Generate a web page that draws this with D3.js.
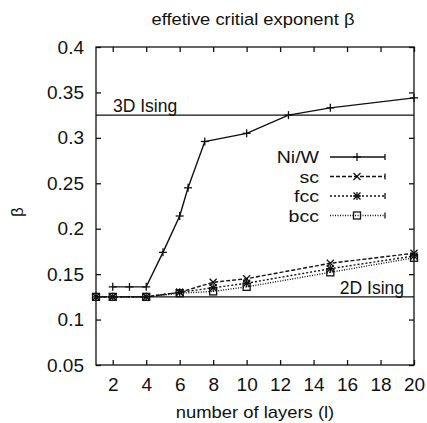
<!DOCTYPE html>
<html><head><meta charset="utf-8">
<script src="https://cdn.jsdelivr.net/npm/d3@7/dist/d3.min.js"></script>
<style>body{margin:0;background:#fff}svg{display:block}text{font-family:"Liberation Sans",Arial,sans-serif;fill:#111}</style>
</head><body>
<svg id="c" width="427" height="423"></svg>
<script>
const title = "effetive critial exponent β";
const xLabel = "number of layers (l)";
const yLabel = "β";
const xTicks = [2,4,6,8,10,12,14,16,18,20];
const yTicks = [0.05,0.1,0.15,0.2,0.25,0.3,0.35,0.4];
const yTickLabels = ["0.05","0.1","0.15","0.2","0.25","0.3","0.35","0.4"];

const niwX = [2,3,4,5,6,6.5,7.5,10,12.5,15,20];
const niwY = [0.136,0.136,0.136,0.174,0.214,0.245,0.296,0.305,0.325,0.333,0.344];
const latX = [1,2,4,6,8,10,15,20];
const scY  = [0.125,0.125,0.125,0.130,0.141,0.145,0.162,0.173];
const fccY = [0.125,0.125,0.125,0.130,0.135,0.140,0.156,0.170];
const bccY = [0.125,0.125,0.125,0.129,0.131,0.136,0.152,0.168];
const seriesNames = ["Ni/W","sc","fcc","bcc"];
const refValues = [0.325,0.125];
const refNames = ["3D Ising","2D Ising"];

const W=427,H=423, m={l:96,r:13,t:47,b:58};
const svg=d3.select("#c");
const x=d3.scaleLinear().domain([1,20]).range([m.l,W-m.r]);
const y=d3.scaleLinear().domain([0.05,0.4]).range([H-m.b,m.t]);
const ink="#111";

// frame
svg.append("rect").attr("x",m.l).attr("y",m.t).attr("width",W-m.r-m.l).attr("height",H-m.b-m.t)
  .attr("fill","none").attr("stroke",ink).attr("stroke-width",1.3);

const fmtY = d => yTickLabels[yTicks.indexOf(d)];
const axB=svg.append("g").attr("transform",`translate(0,${H-m.b})`)
  .call(d3.axisBottom(x).tickValues(xTicks).tickSize(-5).tickPadding(13).tickFormat(d3.format("d")));
const axT=svg.append("g").attr("transform",`translate(0,${m.t})`)
  .call(d3.axisTop(x).tickValues(xTicks).tickSize(-5).tickFormat(""));
const axL=svg.append("g").attr("transform",`translate(${m.l},0)`)
  .call(d3.axisLeft(y).tickValues(yTicks).tickSize(-5).tickPadding(12).tickFormat(fmtY));
const axR=svg.append("g").attr("transform",`translate(${W-m.r},0)`)
  .call(d3.axisRight(y).tickValues(yTicks).tickSize(-5).tickFormat(""));
[axB,axT,axL,axR].forEach(a=>{a.select(".domain").remove();a.selectAll("line").attr("stroke",ink).attr("stroke-width",1.3);});
[axB,axL].forEach(a=>a.selectAll("text").attr("font-size",19).attr("fill",ink).attr("font-family","Liberation Sans, Arial, sans-serif"));

// reference lines
refValues.forEach((v,i)=>{
  svg.append("line").attr("x1",m.l).attr("x2",W-m.r).attr("y1",y(v)).attr("y2",y(v)).attr("stroke",ink).attr("stroke-width",1.4);
});
svg.append("text").attr("x",x(1)+17).attr("y",y(refValues[0])-3).attr("font-size",17.5).text(refNames[0]);
svg.append("text").attr("x",x(20)-10).attr("y",y(refValues[1])-3).attr("font-size",17.5).attr("text-anchor","end").text(refNames[1]);

// markers
function marker(g,type,cx,cy){
  const s=4;
  if(type==="plus"||type==="star"){
    g.append("line").attr("x1",cx-s).attr("x2",cx+s).attr("y1",cy).attr("y2",cy);
    g.append("line").attr("x1",cx).attr("x2",cx).attr("y1",cy-s).attr("y2",cy+s);
  }
  if(type==="cross"||type==="star"){
    const t=3.5;
    g.append("line").attr("x1",cx-t).attr("x2",cx+t).attr("y1",cy-t).attr("y2",cy+t);
    g.append("line").attr("x1",cx-t).attr("x2",cx+t).attr("y1",cy+t).attr("y2",cy-t);
  }
  if(type==="square"){
    g.append("rect").attr("x",cx-3.5).attr("y",cy-3.5).attr("width",7).attr("height",7).attr("fill","none");
  }
}
const series=[
  {name:seriesNames[0],xs:niwX,ys:niwY,dash:null,mk:"plus"},
  {name:seriesNames[1],xs:latX,ys:scY,dash:"4,2",mk:"cross"},
  {name:seriesNames[2],xs:latX,ys:fccY,dash:"2,2",mk:"star"},
  {name:seriesNames[3],xs:latX,ys:bccY,dash:"1,1.5",mk:"square"}
];
const line=d3.line().x(d=>x(d[0])).y(d=>y(d[1]));
series.forEach(s=>{
  const pts=s.xs.map((v,i)=>[v,s.ys[i]]);
  svg.append("path").attr("d",line(pts)).attr("fill","none").attr("stroke",ink).attr("stroke-width",1.4)
    .attr("stroke-dasharray",s.dash);
  const g=svg.append("g").attr("stroke",ink).attr("stroke-width",1.3);
  pts.forEach(p=>marker(g,s.mk,x(p[0]),y(p[1])));
});

// legend
series.forEach((s,i)=>{
  const yy=157+i*19.5;
  svg.append("text").attr("transform",`translate(319,${yy+6}) scale(1.15,1)`).attr("text-anchor","end").attr("font-size",17).text(s.name);
  svg.append("line").attr("x1",330).attr("x2",385).attr("y1",yy).attr("y2",yy).attr("stroke",ink).attr("stroke-width",1.3).attr("stroke-dasharray",s.dash);
  const g=svg.append("g").attr("stroke",ink).attr("stroke-width",1.3);
  marker(g,s.mk,357,yy);
  g.append("line").attr("x1",385).attr("x2",385).attr("y1",yy-3).attr("y2",yy+3);
});

// titles
svg.append("text").attr("transform","translate(253,25) scale(1.08,1)").attr("text-anchor","middle").attr("font-size",17).text(title);
svg.append("text").attr("transform","translate(255,418) scale(1.15,1)").attr("text-anchor","middle").attr("font-size",16).text(xLabel);
svg.append("text").attr("transform","translate(23,212) rotate(-90)").attr("text-anchor","middle").attr("font-size",17).text(yLabel);
</script>
</body></html>
